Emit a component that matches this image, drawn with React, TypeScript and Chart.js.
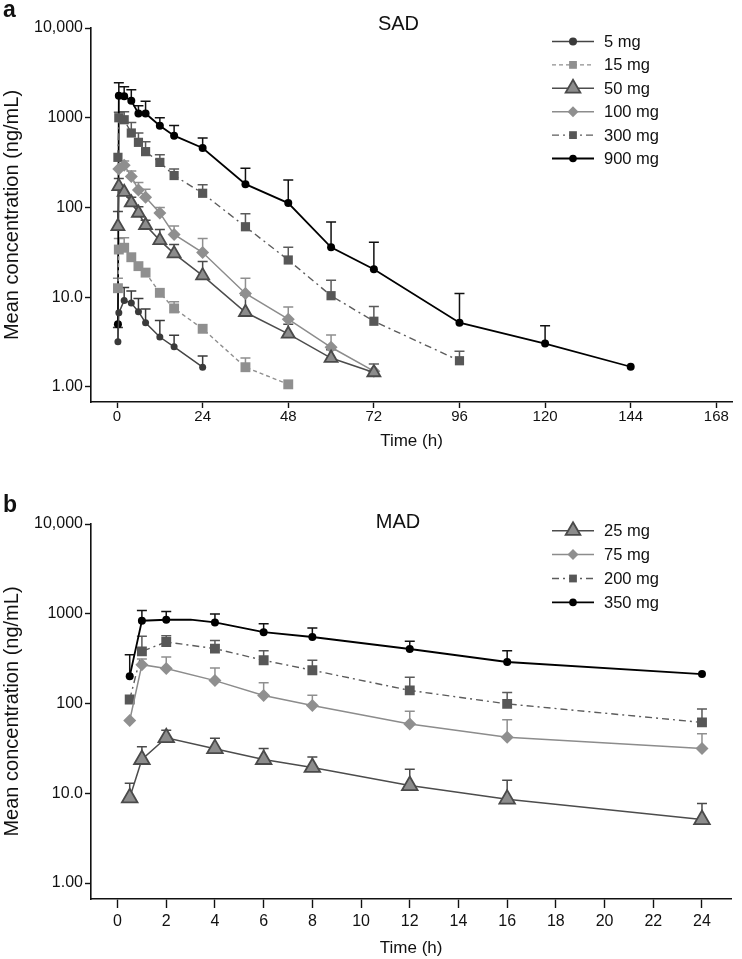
import React, { useEffect, useRef } from 'react';
import { Chart, registerables } from 'chart.js';
import { drawPoint } from 'chart.js/helpers';

Chart.register(...registerables);

const FONT = '"Liberation Sans", Arial, Helvetica, sans-serif';
const NARROW = '"Liberation Sans Narrow", "Liberation Sans", Arial, sans-serif';

// ---------- shared axis data ----------
const yTickValues = [1, 10, 100, 1000, 10000];
const yTickLabels = ['1.00', '10.0', '100', '1000', '10,000'];

// ---------- SAD (panel a) ----------
const sadXTicks = [0, 24, 48, 72, 96, 120, 144, 168];
const sadLabels = ['5 mg', '15 mg', '50 mg', '100 mg', '300 mg', '900 mg'];

const sad5Time = [0.25, 0.5, 2, 4, 6, 8, 12, 16, 24];
const sad5Mean = [3.2, 6.7, 9.2, 8.6, 6.9, 5.2, 3.6, 2.8, 1.66];
const sad5Upper = [4.6, null, 12.8, 11.7, 9.7, 7.4, 5.5, 3.76, 2.22];

const sad15Time = [0.25, 0.5, 2, 4, 6, 8, 12, 16, 24, 36, 48];
const sad15Mean = [12.6, 34, 35.6, 27.9, 22.2, 18.8, 11.2, 7.5, 4.45, 1.66, 1.07];
const sad15Upper = [16.3, 45, 46, null, null, null, null, 8.9, null, 2.1, null];

const sad50Time = [0.25, 0.5, 2, 4, 6, 8, 12, 16, 24, 36, 48, 60, 72];
const sad50Mean = [61.6, 172, 148, 113, 86.8, 63.4, 43, 30.6, 17.4, 6.8, 3.9, 2.1, 1.45];
const sad50Upper = [90, 210, null, 130, 102, 72, 57, 38.7, 25, 10.5, 5, 2.6, 1.8];

const sad100Time = [0.5, 2, 4, 6, 8, 12, 16, 24, 36, 48, 60, 72];
const sad100Mean = [269, 296, 222, 157, 130, 87, 50, 31.5, 11, 5.7, 2.77, 1.5];
const sad100Upper = [null, 330, 255, 190, 160, 100, 62, 45, 16.3, 7.8, 3.8, 1.8];

const sad300Time = [0.25, 0.5, 2, 4, 6, 8, 12, 16, 24, 36, 48, 60, 72, 96];
const sad300Mean = [362, 1000, 950, 676, 532, 419, 318, 227, 144, 61, 26, 10.4, 5.4, 1.96];
const sad300Upper = [null, 1150, 1166, 887, 676, 541, 388, 269, 179, 85, 36, 15.5, 7.9, 2.5];

const sad900Time = [0.25, 0.5, 2, 4, 6, 8, 12, 16, 24, 36, 48, 60, 72, 96, 120, 144];
const sad900Mean = [5.0, 1755, 1740, 1545, 1116, 1116, 815, 631, 460, 182, 112, 36, 20.5, 5.2, 3.05, 1.68];
const sad900Upper = [null, 2450, 2210, 2045, 1360, 1530, 1000, 820, 595, 273, 203, 69, 41, 11, 4.8, null];

// ---------- MAD (panel b) ----------
const madXTicks = [0, 2, 4, 6, 8, 10, 12, 14, 16, 18, 20, 22, 24];
const madLabels = ['25 mg', '75 mg', '200 mg', '350 mg'];

const madTime = [0.5, 1, 2, 4, 6, 8, 12, 16, 24];
const mad25Mean = [8.9, 23.8, 41.6, 31.4, 23.8, 19.4, 12.2, 8.6, 5.1];
const mad25Upper = [12.9, 33, 50.4, 40.9, 31.6, 25.3, 18.5, 14, 7.7];
const mad75Mean = [64.7, 271, 245, 180, 123, 95, 59, 42, 31.6];
const mad75Upper = [null, 314, 330, 249, 170, 124, 82, 66, 46];
const mad200Mean = [111, 381, 485, 409, 303, 235, 140, 99, 61.6];
const mad200Upper = [null, 560, 570, 505, 388, 303, 196, 133, 87];

const mad350Time = [0.5, 1, 2, 3, 4, 6, 8, 12, 16, 24];
const mad350Mean = [201, 836, 858, 858, 800, 623, 551, 405, 290, 213];
const mad350Upper = [350, 1088, 1060, null, 992, 774, 693, 493, 388, null];
const mad350Marker = [1, 1, 1, 0, 1, 1, 1, 1, 1, 1];

// ---------- styles ----------
const styleDark = { line: '#444444', fill: '#3a3a3a', border: '#3a3a3a', bw: 0, dash: [], lw: 1.5, shape: 'circle', r: 3.5, lr: 4, err: '#3a3a3a' };
const styleLightSq = { line: '#8f8f8f', fill: '#8f8f8f', border: '#8f8f8f', bw: 0, dash: [4, 3], lw: 1.4, shape: 'rect', r: 7, lr: 5.5, err: '#8f8f8f' };
const styleTri = { line: '#4c4c4c', fill: '#8c8c8c', border: '#4a4a4a', bw: 1.8, dash: [], lw: 1.5, shape: 'triangle', r: 7.5, lr: 8.5, err: '#4a4a4a' };
const styleDiamond = { line: '#8c8c8c', fill: '#8f8f8f', border: '#8f8f8f', bw: 0, dash: [], lw: 1.5, shape: 'rectRot', r: 6.5, lr: 5.5, err: '#8f8f8f' };
const styleDarkSq = { line: '#5c5c5c', fill: '#575757', border: '#575757', bw: 0, dash: [7, 4, 2, 4], lw: 1.4, shape: 'rect', r: 6.5, lr: 5.5, err: '#5a5a5a' };
const styleBlack = { line: '#000000', fill: '#000000', border: '#000000', bw: 0, dash: [], lw: 1.8, shape: 'circle', r: 4, lr: 3.8, err: '#111111' };

function makeDataset(label, times, mean, upper, st, markers?) {
  return {
    label,
    data: times.map((t, i) => ({ x: t, y: mean[i] })),
    upper,
    errColor: st.err,
    legendRadius: st.lr,
    borderColor: st.line,
    borderWidth: st.lw,
    borderDash: st.dash,
    pointStyle: st.shape,
    pointRadius: markers ? markers.map((m) => (m ? st.r : 0)) : st.r,
    pointBackgroundColor: st.fill,
    pointBorderColor: st.border,
    pointBorderWidth: st.bw,
    fill: false,
    tension: 0,
  };
}

// ---------- plugins ----------
const errorBarPlugin = {
  id: 'errorBars',
  beforeDatasetsDraw(chart) {
    const { ctx } = chart;
    const xs = chart.scales.x;
    const ys = chart.scales.y;
    chart.data.datasets.forEach((ds: any) => {
      const up = ds.upper;
      if (!up) return;
      ctx.save();
      ctx.strokeStyle = ds.errColor;
      ctx.lineWidth = 1.5;
      ds.data.forEach((p, i) => {
        const u = up[i];
        if (u == null) return;
        const px = xs.getPixelForValue(p.x);
        const py = ys.getPixelForValue(p.y);
        const pu = ys.getPixelForValue(u);
        ctx.beginPath();
        ctx.moveTo(px, py);
        ctx.lineTo(px, pu);
        ctx.moveTo(px - 5, pu);
        ctx.lineTo(px + 5, pu);
        ctx.stroke();
      });
      ctx.restore();
    });
  },
};

function makeLegendPlugin(lay) {
  return {
    id: 'customLegend',
    afterDraw(chart) {
      const { ctx } = chart;
      chart.data.datasets.forEach((ds: any, i) => {
        const y = lay.y0 + i * lay.dy;
        ctx.save();
        ctx.strokeStyle = ds.borderColor;
        ctx.lineWidth = ds.borderWidth;
        ctx.setLineDash(ds.borderDash || []);
        ctx.beginPath();
        ctx.moveTo(lay.x0, y);
        ctx.lineTo(lay.x1, y);
        ctx.stroke();
        ctx.setLineDash([]);
        ctx.fillStyle = ds.pointBackgroundColor;
        ctx.strokeStyle = ds.pointBorderColor;
        ctx.lineWidth = ds.pointBorderWidth;
        drawPoint(ctx, { pointStyle: ds.pointStyle, rotation: 0, radius: ds.legendRadius, borderWidth: ds.pointBorderWidth }, (lay.x0 + lay.x1) / 2, y);
        ctx.fillStyle = '#111';
        ctx.font = lay.font;
        ctx.textAlign = 'left';
        ctx.textBaseline = 'middle';
        ctx.fillText(ds.label, lay.xt, y + 1);
        ctx.restore();
      });
    },
  };
}

function makeTextPlugin(items) {
  return {
    id: 'texts',
    afterDraw(chart) {
      const { ctx } = chart;
      items.forEach((it) => {
        ctx.save();
        ctx.font = it.font;
        ctx.fillStyle = '#111';
        ctx.textAlign = it.align;
        ctx.textBaseline = it.baseline;
        ctx.fillText(it.text, it.x, it.y);
        ctx.restore();
      });
    },
  };
}

function buildOptions(p) {
  const tickGrid = (len) => ({ display: true, drawOnChartArea: false, drawTicks: true, tickLength: len, tickColor: '#111', tickWidth: 1.4 });
  const border = { display: true, color: '#111', width: 1.6 };
  return {
    responsive: false,
    maintainAspectRatio: false,
    animation: false,
    layout: { padding: { top: p.padTop, right: p.padRight, left: 0, bottom: 0 } },
    plugins: { legend: { display: false }, tooltip: { enabled: false }, title: { display: false } },
    scales: {
      x: {
        type: 'linear',
        min: p.xMin,
        max: p.xMax,
        afterBuildTicks: (ax) => { ax.ticks = p.xTicks.map((v) => ({ value: v })); },
        afterFit: (ax) => { ax.height = p.xHeight; },
        grid: tickGrid(p.xTickLen),
        border,
        ticks: { color: '#111', font: { family: p.xTickFont, size: p.xTickSize }, padding: p.xTickPad, maxRotation: 0, autoSkip: false, callback: (v) => String(v) },
        title: { display: true, text: 'Time (h)', color: '#111', font: { family: FONT, size: 17 }, padding: { top: 0, bottom: 0 } },
      },
      y: {
        type: 'logarithmic',
        min: p.yMin,
        max: 10000,
        afterBuildTicks: (ax) => { ax.ticks = yTickValues.map((v) => ({ value: v })); },
        afterFit: (ax) => { ax.width = 91; },
        grid: tickGrid(6),
        border,
        ticks: { color: '#111', font: { family: FONT, size: 16 }, padding: 2, autoSkip: false, callback: (v) => { const k = yTickValues.indexOf(v); return k >= 0 ? yTickLabels[k] : ''; } },
        title: { display: true, text: 'Mean concentration (ng/mL)', color: '#111', font: { family: FONT, size: 20 }, padding: { top: 0, bottom: 0 } },
      },
    },
  };
}

function sadConfig() {
  return {
    type: 'line',
    data: {
      datasets: [
        makeDataset(sadLabels[0], sad5Time, sad5Mean, sad5Upper, styleDark),
        makeDataset(sadLabels[1], sad15Time, sad15Mean, sad15Upper, styleLightSq),
        makeDataset(sadLabels[2], sad50Time, sad50Mean, sad50Upper, styleTri),
        makeDataset(sadLabels[3], sad100Time, sad100Mean, sad100Upper, styleDiamond),
        makeDataset(sadLabels[4], sad300Time, sad300Mean, sad300Upper, styleDarkSq),
        makeDataset(sadLabels[5], sad900Time, sad900Mean, sad900Upper, styleBlack),
      ],
    },
    options: buildOptions({ padTop: 28, padRight: 10, xMin: -7.3, xMax: 172.4, xTicks: sadXTicks, xHeight: 50, xTickLen: 6, xTickFont: FONT, xTickSize: 15, xTickPad: 0, yMin: 0.68 }),
    plugins: [
      errorBarPlugin,
      makeLegendPlugin({ x0: 552, x1: 594, xt: 604, y0: 41.5, dy: 23.4, font: '16.5px ' + FONT }),
      makeTextPlugin([
        { text: 'a', x: 3, y: 17, font: 'bold 23px ' + FONT, align: 'left', baseline: 'alphabetic' },
        { text: 'SAD', x: 398.5, y: 24, font: '20px ' + FONT, align: 'center', baseline: 'middle' },
      ]),
    ],
  };
}

function madConfig() {
  return {
    type: 'line',
    data: {
      datasets: [
        makeDataset(madLabels[0], madTime, mad25Mean, mad25Upper, { ...styleTri, r: 9, lr: 8.5 }),
        makeDataset(madLabels[1], madTime, mad75Mean, mad75Upper, styleDiamond),
        makeDataset(madLabels[2], madTime, mad200Mean, mad200Upper, { ...styleDarkSq, r: 7 }),
        makeDataset(madLabels[3], mad350Time, mad350Mean, mad350Upper, styleBlack, mad350Marker),
      ],
    },
    options: buildOptions({ padTop: 54, padRight: 2, xMin: -1.09, xMax: 25.2, xTicks: madXTicks, xHeight: 60, xTickLen: 9, xTickFont: NARROW, xTickSize: 16, xTickPad: 4, yMin: 0.664 }),
    plugins: [
      errorBarPlugin,
      makeLegendPlugin({ x0: 552, x1: 594, xt: 604, y0: 60.7, dy: 23.9, font: '16.5px ' + FONT }),
      makeTextPlugin([
        { text: 'b', x: 3, y: 42, font: 'bold 23px ' + FONT, align: 'left', baseline: 'alphabetic' },
        { text: 'MAD', x: 398, y: 52, font: '20px ' + FONT, align: 'center', baseline: 'middle' },
      ]),
    ],
  };
}

function ChartCanvas({ make, top, height }) {
  const ref = useRef<HTMLCanvasElement | null>(null);
  useEffect(() => {
    const chart = new Chart(ref.current as HTMLCanvasElement, make() as any);
    return () => chart.destroy();
  }, []);
  return (
    <canvas
      ref={ref}
      width={742}
      height={height}
      style={{ position: 'absolute', left: 0, top, width: 742, height, display: 'block' }}
    />
  );
}

export default function App() {
  useEffect(() => {
    document.body.style.margin = '0';
    document.body.style.background = '#ffffff';
  }, []);
  return (
    <div style={{ position: 'relative', width: 742, height: 959, overflow: 'hidden', background: '#fff' }}>
      <ChartCanvas make={sadConfig} top={0} height={452} />
      <ChartCanvas make={madConfig} top={470} height={489} />
    </div>
  );
}
